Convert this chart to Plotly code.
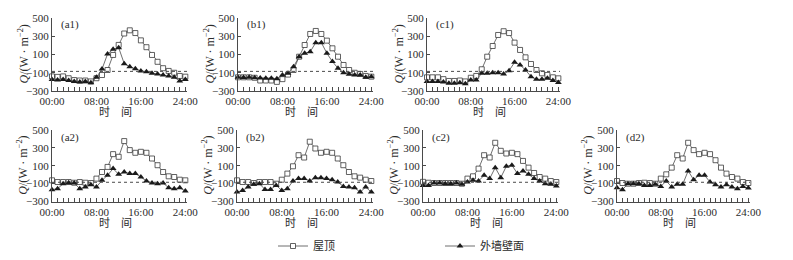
import plotly.graph_objects as go

# ---------------- data ----------------
HOURS = list(range(25))
X_TICK_VALS = [0, 8, 16, 24]
X_TICK_TEXT = ["00:00", "08:00", "16:00", "24:00"]
Y_TICK_VALS = [500, 300, 100, -100, -300]
Y_TICK_TEXT = ["500", "300", "100", "−100", "−300"]
REF_LEVEL = -85
SERIES_NAMES = ["屋顶", "外墙壁面"]
PANEL_LABELS = ["(a1)", "(b1)", "(c1)", "(a2)", "(b2)", "(c2)", "(d2)"]
X_TITLE = "时\u2003间"
Y_TITLE = "<i>Q</i>/(W · m<sup>−2</sup>)"

roof_a1 = [-140, -145, -140, -160, -180, -185, -185, -195, -160, -125, -70, 95, 205, 330, 365, 335, 255, 180, 95, 20, -50, -80, -100, -135, -143]
wall_a1 = [-175, -180, -175, -185, -195, -200, -195, -210, -150, -60, 105, 157, 175, 0, -35, -55, -80, -90, -105, -115, -125, -135, -150, -190, -175]
roof_b1 = [-150, -150, -150, -155, -185, -185, -185, -200, -170, -120, -70, 76, 204, 325, 358, 325, 252, 168, 76, -15, -70, -100, -113, -135, -143]
wall_b1 = [-150, -152, -150, -155, -158, -160, -160, -165, -124, -106, -33, 76, 113, 131, 230, 230, 113, 22, -51, -99, -117, -124, -124, -150, -143]
roof_c1 = [-150, -150, -150, -170, -190, -190, -185, -195, -155, -135, -62, 76, 193, 314, 355, 335, 230, 150, 69, -4, -70, -106, -124, -150, -161]
wall_c1 = [-197, -195, -195, -200, -215, -215, -210, -220, -179, -179, -106, -106, -99, -99, -113, -77, 14, -15, -70, -143, -172, -172, -161, -186, -208]
roof_a2 = [-63, -82, -82, -82, -90, -82, -90, -93, -44, 30, 87, 230, 200, 376, 275, 245, 256, 245, 181, 106, 30, -18, -26, -56, -63]
wall_a2 = [-168, -157, -101, -90, -93, -157, -138, -112, -138, -63, -7, 68, 4, 30, 12, 12, -26, -71, -93, -101, -93, -146, -157, -146, -183]
roof_b2 = [-63, -82, -82, -93, -82, -82, -82, -101, -56, 12, 94, 218, 192, 369, 293, 245, 256, 245, 181, 106, 30, -18, -33, -56, -71]
wall_b2 = [-195, -176, -138, -108, -101, -165, -165, -120, -176, -157, -71, -44, -44, -71, -33, -33, -44, -56, -82, -131, -138, -146, -195, -139, -195]
roof_c2 = [-80, -90, -93, -93, -93, -93, -93, -101, -44, -18, 68, 218, 192, 357, 267, 237, 245, 230, 154, 79, 19, -26, -44, -71, -82]
wall_c2 = [-120, -120, -93, -93, -101, -101, -93, -108, -82, -63, -71, -7, -44, 79, -33, 94, 106, 12, 42, 4, -44, -71, -101, -108, -127]
roof_d2 = [-71, -93, -101, -101, -93, -90, -93, -101, -44, 4, 79, 218, 181, 357, 275, 230, 245, 230, 162, 79, 12, -26, -44, -82, -93]
wall_d2 = [-146, -168, -101, -101, -101, -120, -120, -108, -131, -71, -138, -108, -108, 42, -56, -7, -7, -82, -112, -138, -112, -138, -157, -131, -150]

ROOF = [roof_a1, roof_b1, roof_c1, roof_a2, roof_b2, roof_c2, roof_d2]
WALL = [wall_a1, wall_b1, wall_c1, wall_a2, wall_b2, wall_c2, wall_d2]

# ---------------- layout (pixels) ----------------
W, H = 793, 260
BOXES = [  # x0, x1, ytop, ybottom
    (52, 187, 18, 91),
    (238, 373, 18, 91),
    (427, 560, 18, 91),
    (52, 187, 130, 201.5),
    (237, 373, 130, 201.5),
    (423, 558, 130, 201.5),
    (617, 750, 130, 201.5),
]
SERIF = "Liberation Serif, Times New Roman, Noto Sans CJK SC, serif"
INK = "#2b2b2b"
LINE = "#4a4a4a"

fig = go.Figure()
layout = dict(
    template="none",
    width=W, height=H,
    autosize=False,
    margin=dict(l=0, r=0, t=0, b=0, pad=0, autoexpand=False),
    paper_bgcolor="white", plot_bgcolor="white",
    font=dict(family=SERIF, size=11, color=INK),
    showlegend=True,
    hovermode=False,
    legend=dict(orientation="h", x=273 / W, xanchor="left", y=1 - 246 / H, yanchor="middle",
                entrywidth=122, entrywidthmode="pixels",
                font=dict(family=SERIF, size=11, color=INK), bgcolor="rgba(0,0,0,0)",
                borderwidth=0, tracegroupgap=0),
)
annotations = []
shapes = []

for k, (x0, x1, yt, yb) in enumerate(BOXES):
    n = "" if k == 0 else str(k + 1)
    xa, ya = "x" + n, "y" + n
    layout["xaxis" + n] = dict(
        domain=[x0 / W, x1 / W], range=[0, 24.3], anchor=ya, automargin=False,
        tickvals=X_TICK_VALS, ticktext=X_TICK_TEXT,
        ticks="inside", ticklen=4, tickwidth=1, tickcolor=LINE,
        minor=dict(dtick=1, tick0=0, ticks="inside", ticklen=4, tickwidth=1, tickcolor=LINE, showgrid=False),
        showline=True, linecolor=LINE, linewidth=1,
        showgrid=False, zeroline=False,
        tickfont=dict(family=SERIF, size=11, color=INK),
    )
    layout["yaxis" + n] = dict(
        domain=[1 - yb / H, 1 - yt / H], range=[-300, 500], anchor=xa, automargin=False,
        tickvals=Y_TICK_VALS, ticktext=Y_TICK_TEXT,
        ticks="inside", ticklen=3, tickwidth=1, tickcolor=LINE,
        showline=True, linecolor=LINE, linewidth=1,
        showgrid=False, zeroline=False,
        tickfont=dict(family=SERIF, size=11, color=INK),
    )
    shapes.append(dict(type="line", xref=xa + " domain", yref=ya, x0=0, x1=1,
                       y0=REF_LEVEL, y1=REF_LEVEL,
                       line=dict(color=LINE, width=1, dash="dot")))
    fig.add_trace(go.Scatter(
        x=HOURS, y=ROOF[k], xaxis=xa, yaxis=ya, mode="lines+markers",
        name=SERIES_NAMES[0], showlegend=(k == 0), cliponaxis=False,
        line=dict(color=LINE, width=0.8),
        marker=dict(symbol="square", size=5, color="white", line=dict(color="#3a3a3a", width=0.8)),
    ))
    fig.add_trace(go.Scatter(
        x=HOURS, y=WALL[k], xaxis=xa, yaxis=ya, mode="lines+markers",
        name=SERIES_NAMES[1], showlegend=(k == 0), cliponaxis=False,
        line=dict(color=LINE, width=0.8),
        marker=dict(symbol="triangle-up", size=6, color="#1a1a1a", line=dict(width=0)),
    ))
    annotations.append(dict(text=PANEL_LABELS[k], xref="paper", yref="paper",
                            x=(x0 + 7) / W, y=1 - (yt + 7) / H, xanchor="left", yanchor="middle",
                            showarrow=False, font=dict(family=SERIF, size=11, color=INK)))
    annotations.append(dict(text=Y_TITLE, xref="paper", yref="paper",
                            x=(x0 - 29) / W, y=1 - ((yt + yb) / 2) / H, xanchor="center", yanchor="middle",
                            textangle=-90, showarrow=False, font=dict(family=SERIF, size=12, color=INK)))
    annotations.append(dict(text=X_TITLE, xref="paper", yref="paper",
                            x=((x0 + x1) / 2 - 4) / W, y=1 - (yb + 21) / H, xanchor="center", yanchor="middle",
                            showarrow=False, font=dict(family=SERIF, size=11, color=INK)))

layout["annotations"] = annotations
layout["shapes"] = shapes
fig.update_layout(**layout)
fig.write_html("out.html",
               config={"displayModeBar": False, "staticPlot": True},
               post_script="document.body.style.margin='0px';document.body.style.overflow='hidden';")
